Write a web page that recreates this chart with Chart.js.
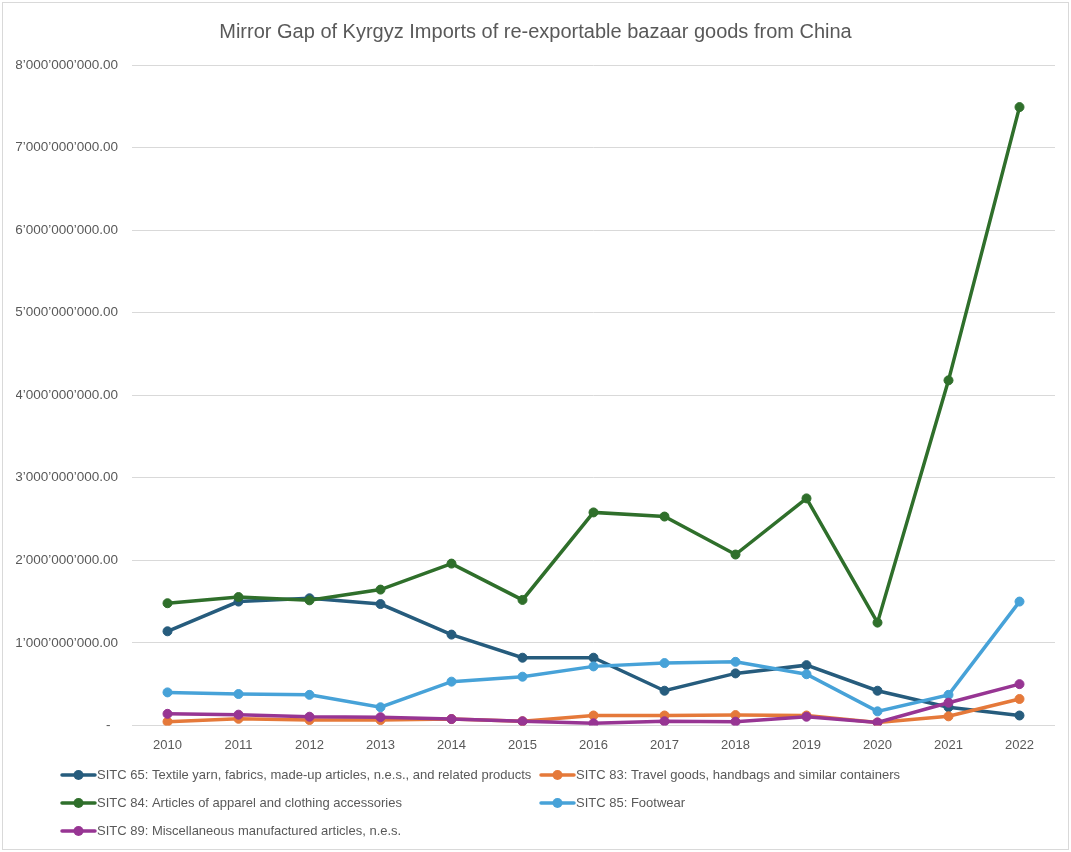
<!DOCTYPE html>
<html>
<head>
<meta charset="utf-8">
<script src="https://cdn.jsdelivr.net/npm/chart.js@4/dist/chart.umd.min.js"></script>
<style>
  html, body { margin: 0; padding: 0; background: #ffffff; }
  #wrap { position: relative; width: 1071px; height: 852px; }
</style>
</head>
<body>
<div id="wrap"><canvas id="chart" width="1071" height="852"></canvas></div>
<script>
// Years on the category axis
const years = ['2010', '2011', '2012', '2013', '2014', '2015', '2016', '2017', '2018', '2019', '2020', '2021', '2022'];

// Mirror gap values (USD) per SITC group
const sitc65 = [1.14e9, 1.50e9, 1.54e9, 1.47e9, 1.10e9, 0.82e9, 0.82e9, 0.42e9, 0.63e9, 0.73e9, 0.42e9, 0.22e9, 0.12e9];
const sitc83 = [0.045e9, 0.08e9, 0.065e9, 0.065e9, 0.077e9, 0.05e9, 0.12e9, 0.12e9, 0.125e9, 0.12e9, 0.035e9, 0.11e9, 0.32e9];
const sitc84 = [1.48e9, 1.555e9, 1.515e9, 1.645e9, 1.96e9, 1.52e9, 2.58e9, 2.53e9, 2.07e9, 2.75e9, 1.245e9, 4.18e9, 7.49e9];
const sitc85 = [0.40e9, 0.38e9, 0.37e9, 0.22e9, 0.53e9, 0.59e9, 0.715e9, 0.755e9, 0.77e9, 0.62e9, 0.17e9, 0.37e9, 1.50e9];
const sitc89 = [0.14e9, 0.13e9, 0.105e9, 0.10e9, 0.077e9, 0.05e9, 0.025e9, 0.05e9, 0.045e9, 0.105e9, 0.036e9, 0.275e9, 0.50e9];

const seriesNames = [
  'SITC 65: Textile yarn, fabrics, made-up articles, n.e.s., and related products',
  'SITC 83: Travel goods, handbags and similar containers',
  'SITC 84: Articles of apparel and clothing accessories',
  'SITC 85: Footwear',
  'SITC 89: Miscellaneous manufactured articles, n.e.s.'
];
const seriesColors = ['#265C7D', '#E5793A', '#2F6F2B', '#47A2D8', '#973593'];
const seriesValues = [sitc65, sitc83, sitc84, sitc85, sitc89];

const titleText = 'Mirror Gap of Kyrgyz Imports of re-exportable bazaar goods from China';
const textGrey = '#595959';

// 8'000'000'000.00 style labels; zero shows as a dash
function formatAmount(v) {
  if (v === 0) return '-\u2007';
  const intPart = Math.round(v).toString().replace(/\B(?=(\d{3})+(?!\d))/g, '\u2019');
  return intPart + '.00';
}

// White background with a thin frame
const frame = {
  id: 'frame',
  beforeDraw(chart) {
    const c = chart.ctx;
    c.save();
    c.fillStyle = '#ffffff';
    c.fillRect(0, 0, chart.width, chart.height);
    c.strokeStyle = '#d9d9d9';
    c.lineWidth = 1;
    c.strokeRect(2.5, 2.5, chart.width - 5, chart.height - 5);
    c.restore();
  }
};

// Two-column legend under the plot
const columnLegend = {
  id: 'columnLegend',
  afterDraw(chart) {
    const c = chart.ctx;
    const colX = [62, 541];
    const rowY = [775, 803, 831];
    c.save();
    c.font = '13px "Liberation Sans"';
    c.textBaseline = 'middle';
    c.textAlign = 'left';
    chart.data.datasets.forEach((ds, i) => {
      const x = colX[i % 2];
      const y = rowY[Math.floor(i / 2)];
      c.strokeStyle = ds.borderColor;
      c.lineWidth = 3.5;
      c.lineCap = 'round';
      c.beginPath();
      c.moveTo(x, y);
      c.lineTo(x + 33, y);
      c.stroke();
      c.fillStyle = ds.borderColor;
      c.beginPath();
      c.arc(x + 16.5, y, 5, 0, Math.PI * 2);
      c.fill();
      c.fillStyle = textGrey;
      c.fillText(ds.label, x + 35, y);
    });
    c.restore();
  }
};

const datasets = seriesValues.map((vals, i) => ({
  label: seriesNames[i],
  data: vals,
  borderColor: seriesColors[i],
  backgroundColor: seriesColors[i],
  pointBackgroundColor: seriesColors[i],
  pointBorderColor: seriesColors[i],
  borderWidth: 3.5,
  pointRadius: 4.5,
  pointBorderWidth: 1,
  tension: 0,
  order: seriesValues.length - i
}));

new Chart(document.getElementById('chart'), {
  type: 'line',
  data: { labels: years, datasets },
  plugins: [frame, columnLegend],
  options: {
    responsive: false,
    animation: false,
    layout: { padding: { left: 16, right: 16, top: 0, bottom: 87 } },
    plugins: {
      legend: { display: false },
      tooltip: { enabled: false },
      title: {
        display: true,
        text: titleText,
        color: textGrey,
        font: { family: '"Liberation Sans"', size: 20, weight: 'normal' },
        padding: { top: 20, bottom: 21 }
      }
    },
    scales: {
      x: {
        offset: true,
        grid: { display: false, drawTicks: false },
        border: { display: false },
        ticks: {
          color: textGrey,
          padding: 12,
          font: { family: '"Liberation Sans"', size: 13 }
        }
      },
      y: {
        min: 0,
        max: 8e9,
        grid: { color: '#d9d9d9', lineWidth: 1, drawTicks: false },
        border: { display: false },
        afterFit(scale) { scale.width = 116; },
        ticks: {
          stepSize: 1e9,
          color: textGrey,
          padding: 14,
          font: { family: '"Liberation Sans"', size: 13.5 },
          callback: (v) => formatAmount(v)
        }
      }
    }
  }
});
</script>
</body>
</html>
